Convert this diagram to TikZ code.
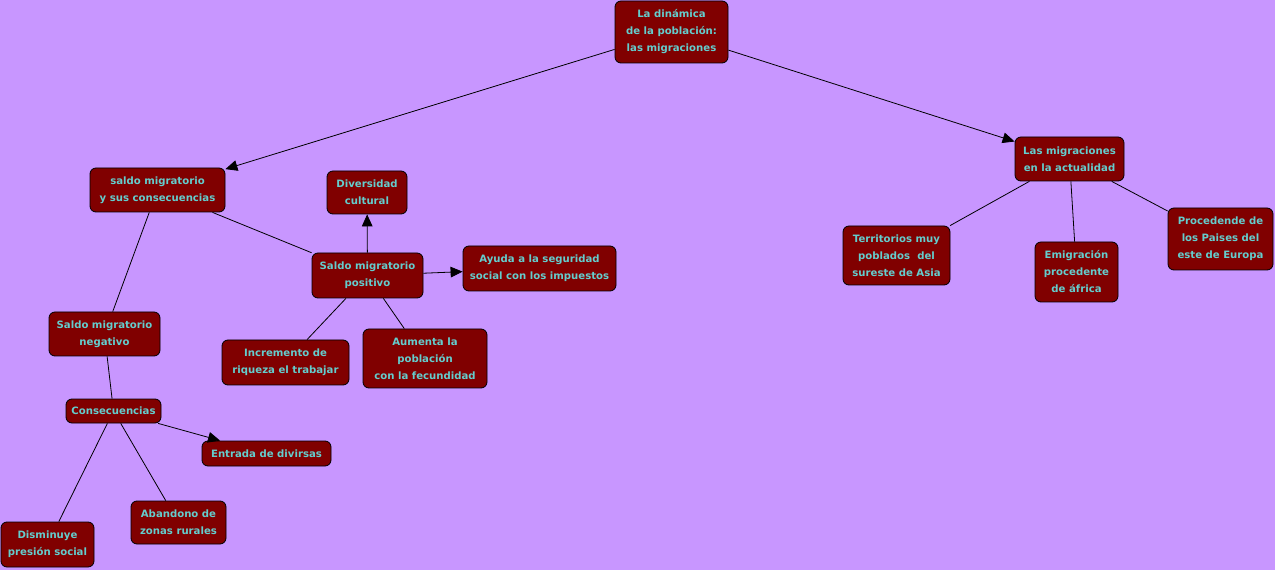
\documentclass[tikz,border=0pt]{standalone}
\usepackage{fontspec}
\setmainfont{DejaVu Sans}
\usetikzlibrary{arrows.meta}
\definecolor{bgc}{RGB}{200,150,255}
\definecolor{boxc}{RGB}{128,0,0}
\definecolor{txtc}{RGB}{100,205,205}
\tikzset{
  cbox/.style={draw=black, line width=0.6pt, fill=boxc, rounded corners=4.5pt,
    text=txtc, align=center, inner sep=1pt,
    font=\fontsize{7.6}{12.75}\selectfont\bfseries},
  link/.style={draw=black, line width=0.6pt},
  arr/.style={link, -{Triangle[length=9pt,width=8pt]}}
}
\begin{document}
\begin{tikzpicture}[x=0.75pt,y=-0.75pt]
\fill[bgc] (0,0) rectangle (1275,570);
\useasboundingbox (0,0) rectangle (1275,570);

\node[cbox, minimum width=84.75pt, minimum height=46.5pt] (main) at (671.5,32) {La dinámica\\ de la población:\\las migraciones};
\node[cbox, minimum width=101.25pt, minimum height=33pt] (saldo) at (157.5,190) {saldo migratorio\\ y sus consecuencias};
\node[cbox, minimum width=81.75pt, minimum height=33pt] (actual) at (1069.5,159) {Las migraciones\\en la actualidad};
\node[cbox, minimum width=60pt, minimum height=32.25pt] (divers) at (367,192.5) {Diversidad\\ cultural};
\node[cbox, minimum width=83.25pt, minimum height=33.75pt] (posit) at (367.5,275.5) {Saldo migratorio\\positivo};
\node[cbox, minimum width=114.75pt, minimum height=33.75pt] (ayuda) at (539.5,268.5) {Ayuda a la seguridad\\social con los impuestos};
\node[cbox, minimum width=83.25pt, minimum height=33pt] (negat) at (104.5,334) {Saldo migratorio\\negativo};
\node[cbox, minimum width=95.25pt, minimum height=33.75pt] (increm) at (285.5,362.5) {Incremento de\\riqueza el trabajar};
\node[cbox, minimum width=93pt, minimum height=44.25pt] (aument) at (425,358.5) {Aumenta la\\población\\ con la fecundidad};
\node[cbox, minimum width=71.25pt, minimum height=18pt] (conse) at (113.5,411) {Consecuencias};
\node[cbox, minimum width=96.75pt, minimum height=18.75pt] (entrada) at (266.5,453.5) {Entrada de divirsas};
\node[cbox, minimum width=69.75pt, minimum height=33.75pt] (dismin) at (47.5,544.5) {Disminuye\\presión social};
\node[cbox, minimum width=71.25pt, minimum height=32.25pt] (abandono) at (178.5,522.5) {Abandono de\\zonas rurales};
\node[cbox, minimum width=80.25pt, minimum height=44.25pt] (territ) at (896.5,255.5) {Territorios muy\\poblados\ \ del\\sureste de Asia};
\node[cbox, minimum width=62.25pt, minimum height=45pt] (emigr) at (1076.5,272) {Emigración\\procedente\\ de áfrica};
\node[cbox, minimum width=78.75pt, minimum height=46.5pt] (proced) at (1220.5,239) {Procedende de\\los Paises del\\este de Europa};

\draw[arr] (main) -- (saldo);
\draw[arr] (main) -- (actual);
\draw[link] (saldo) -- (posit);
\draw[link] (saldo) -- (negat);
\draw[arr] (posit) -- (divers);
\draw[arr] (posit) -- (ayuda);
\draw[link] (posit) -- (increm);
\draw[link] (posit) -- (aument);
\draw[link] (negat) -- (conse);
\draw[arr] (conse) -- (entrada);
\draw[link] (conse) -- (dismin);
\draw[link] (conse) -- (abandono);
\draw[link] (actual) -- (territ);
\draw[link] (actual) -- (emigr);
\draw[link] (actual) -- (proced);
\end{tikzpicture}
\end{document}
